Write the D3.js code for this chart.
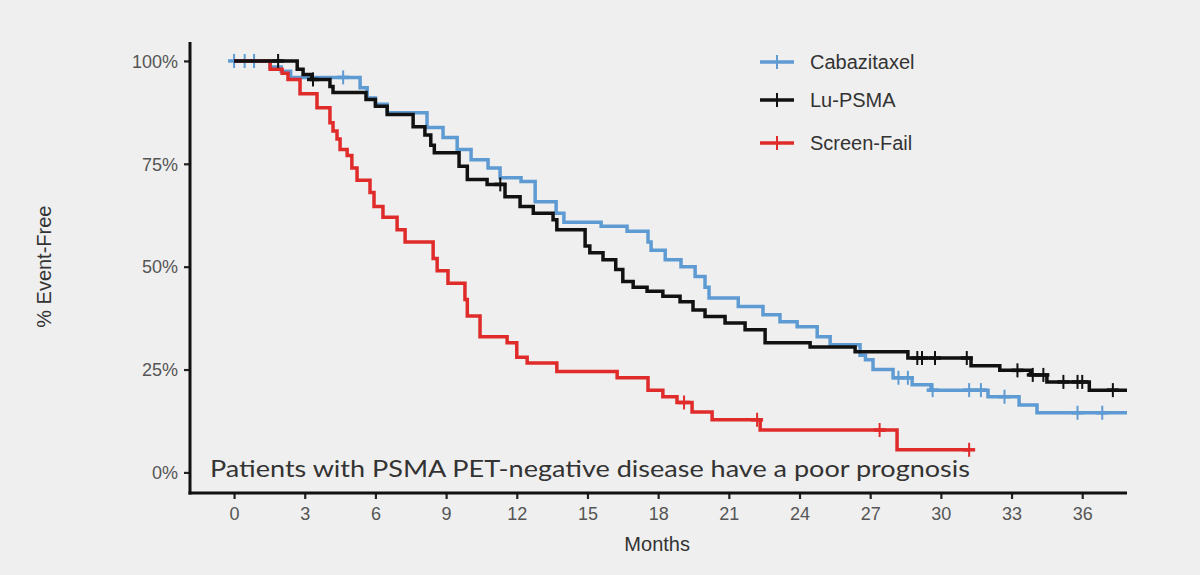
<!DOCTYPE html>
<html><head><meta charset="utf-8">
<script src="https://cdn.jsdelivr.net/npm/d3@7"></script>
<style>html,body{margin:0;padding:0;background:#efefef;}svg{display:block;}</style>
</head><body><svg id="c" width="1200" height="575"></svg>
<script>
// ---- data (months, % event-free) ----
const seriesNames = ["Cabazitaxel", "Lu-PSMA", "Screen-Fail"];
const seriesColors = ["#5f9bd3", "#111111", "#e02b2b"];

const cabaTime = [0,1.53,2.0,2.4,5.35,5.65,6.0,6.5,8.19,8.87,9.47,10.06,10.78,11.29,12.18,12.78,13.67,14.0,15.58,16.68,17.57,17.7,18.3,18.97,19.57,19.99,20.16,21.4,22.45,23.17,23.9,24.75,25.3,26.57,26.8,27.12,27.97,28.78,29.58,32.0,33.32,34.08,37.9];
const cabaSurv = [100,98.5,97.5,96,93.5,91,89.5,87.4,83.8,81.4,78.5,76,74,71.6,70.7,65.8,63,60.8,59.8,58.6,56,54,51.7,50,47.6,45,42.4,40.3,38.3,36.6,35.4,33,31,28.5,27.4,25,23,21.3,20,18.4,16.4,14.5,14.5];
const cabaCensor = [0,0.45,0.85,4.63,28.2,28.6,29.65,31.2,31.7,32.7,35.8,36.85];

const luTime = [0,2.68,2.93,3.3,4.07,4.2,5.6,6.0,6.5,7.6,8.1,8.35,8.5,9.55,9.9,10.74,11.5,12.14,12.7,13.54,13.7,14.9,15.1,15.66,16.2,16.5,16.94,17.53,18.2,18.93,19.48,19.99,20.84,21.69,22.54,24.45,26.36,28.6,31.28,32.5,33.8,34.5,36.3,37.9];
const luSurv = [100,98,96.7,95.5,93.8,92.3,90.6,89,87,84,82,79.5,77.7,74.4,71.2,70,67,64.6,63,61.4,59,55,53.4,51.7,49.3,46.4,45,44,42.8,41.5,39.5,37.9,36.3,34.7,31.5,30.5,29.3,27.8,25.9,24.8,23.7,22,20,20];
const luCensor = [1.87,3.35,11.3,29.0,29.2,29.75,31.1,33.25,33.9,34.35,35.2,35.8,36.0,37.3];

const sfTime = [0,1.53,2.04,2.29,2.8,3.52,4.07,4.2,4.37,4.5,4.8,5.0,5.22,5.77,5.94,6.32,6.92,7.26,8.45,8.62,9.08,9.8,9.9,10.44,11.59,12.0,12.44,13.7,16.26,17.57,18.2,18.8,19.44,20.29,22.33,28.14,31.24];
const sfSurv = [100,98,97,95.5,92,88.6,85,83,81,78.5,77,74,71,68,64.6,62,59,56,52,49,46,42,38,33,31.5,28,26.6,24.5,23,20,18.4,17,14.7,12.8,10.3,5.5,5.5];
const sfCensor = [19.1,22.2,27.4,31.2];

const xTicks = [0,3,6,9,12,15,18,21,24,27,30,33,36];
const yTicks = [0,25,50,75,100];
const yTickLabels = ["0%","25%","50%","75%","100%"];
const annotation = "Patients with PSMA PET-negative disease have a poor prognosis";

// ---- drawing ----
const svg = d3.select("#c");
svg.append("rect").attr("width",1200).attr("height",575).attr("fill","#efefef");

const x = d3.scaleLinear().domain([-1.87, 37.9]).range([190, 1127]);
const y = d3.scaleLinear().domain([-5, 104.6]).range([493, 42]);

const series = [
  {name: seriesNames[0], color: seriesColors[0], t: cabaTime, s: cabaSurv, c: cabaCensor},
  {name: seriesNames[1], color: seriesColors[1], t: luTime, s: luSurv, c: luCensor},
  {name: seriesNames[2], color: seriesColors[2], t: sfTime, s: sfSurv, c: sfCensor}
];

function survAt(ser, tt){
  let v = ser.s[0];
  for (let i=0;i<ser.t.length;i++){ if (ser.t[i] <= tt) v = ser.s[i]; }
  return v;
}

const line = d3.line().x(d=>x(d[0])).y(d=>y(d[1])).curve(d3.curveStepAfter);

// axes
const gx = svg.append("g").attr("transform","translate(0,493)")
  .call(d3.axisBottom(x).tickValues(xTicks).tickSize(6).tickPadding(8).tickFormat(d3.format("d")));
const gy = svg.append("g").attr("transform","translate(190,0)")
  .call(d3.axisLeft(y).tickValues(yTicks).tickSize(6).tickPadding(6).tickFormat((d,i)=>yTickLabels[i]));
[gx, gy].forEach(g=>{
  g.select(".domain").remove();
  g.selectAll(".tick line").attr("stroke","#222").attr("stroke-width",2.2);
  g.selectAll(".tick text").attr("fill","#555").attr("font-family","Liberation Sans, Arial, sans-serif").attr("font-size",18);
});
gy.selectAll(".tick text").attr("dy","0.35em");
svg.append("line").attr("x1",x.range()[0]).attr("x2",x.range()[0]).attr("y1",y.range()[1]).attr("y2",y.range()[0]+1.5)
  .attr("stroke","#111").attr("stroke-width",3);
svg.append("line").attr("x1",x.range()[0]-1.5).attr("x2",x.range()[1]).attr("y1",y.range()[0]).attr("y2",y.range()[0])
  .attr("stroke","#111").attr("stroke-width",3);

// curves (draw Cabazitaxel, Screen-Fail, then Lu-PSMA on top)
const order = [0,2,1];
order.forEach(k=>{
  const ser = series[k];
  const pts = ser.t.map((t,i)=>[t, ser.s[i]]);
  svg.append("path").attr("d", line(pts)).attr("fill","none")
    .attr("stroke", ser.color).attr("stroke-width",3.5).attr("stroke-linejoin","miter");
  const g = svg.append("g");
  ser.c.forEach(ct=>{
    const cx = x(ct), cy = y(survAt(ser, ct));
    g.append("line").attr("x1",cx).attr("x2",cx).attr("y1",cy-7).attr("y2",cy+7).attr("stroke",ser.color).attr("stroke-width",2);
    g.append("line").attr("x1",cx-6).attr("x2",cx+6).attr("y1",cy).attr("y2",cy).attr("stroke",ser.color).attr("stroke-width",3.5);
  });
});

// annotation
const ann = svg.append("text").attr("x",210).attr("y",477)
  .attr("font-family","Lato, 'Open Sans', sans-serif").attr("font-size",23).attr("fill","#333")
  .attr("font-weight",400).text(annotation);
ann.attr("textLength",760).attr("lengthAdjust","spacingAndGlyphs");

// axis titles
svg.append("text").attr("x", x(18)-1).attr("y",551).attr("text-anchor","middle")
  .attr("font-family","Liberation Sans, Arial, sans-serif").attr("font-size",20).attr("fill","#333").text("Months");
svg.append("text").attr("transform","translate(51,"+y(50)+") rotate(-90)").attr("text-anchor","middle")
  .attr("font-family","Liberation Sans, Arial, sans-serif").attr("font-size",20).attr("fill","#333").text("% Event-Free");

// legend
const legY = [62, 100, 143];
series.forEach((ser,i)=>{
  const g = svg.append("g").attr("transform","translate(760,"+legY[i]+")");
  g.append("line").attr("x1",0).attr("x2",34).attr("y1",0).attr("y2",0).attr("stroke",ser.color).attr("stroke-width",3.5);
  g.append("line").attr("x1",17).attr("x2",17).attr("y1",-7).attr("y2",7).attr("stroke",ser.color).attr("stroke-width",2);
  g.append("text").attr("x",50).attr("y",0).attr("dy","0.36em")
    .attr("font-family","Liberation Sans, Arial, sans-serif").attr("font-size",20).attr("fill","#333").text(ser.name);
});
</script></body></html>
